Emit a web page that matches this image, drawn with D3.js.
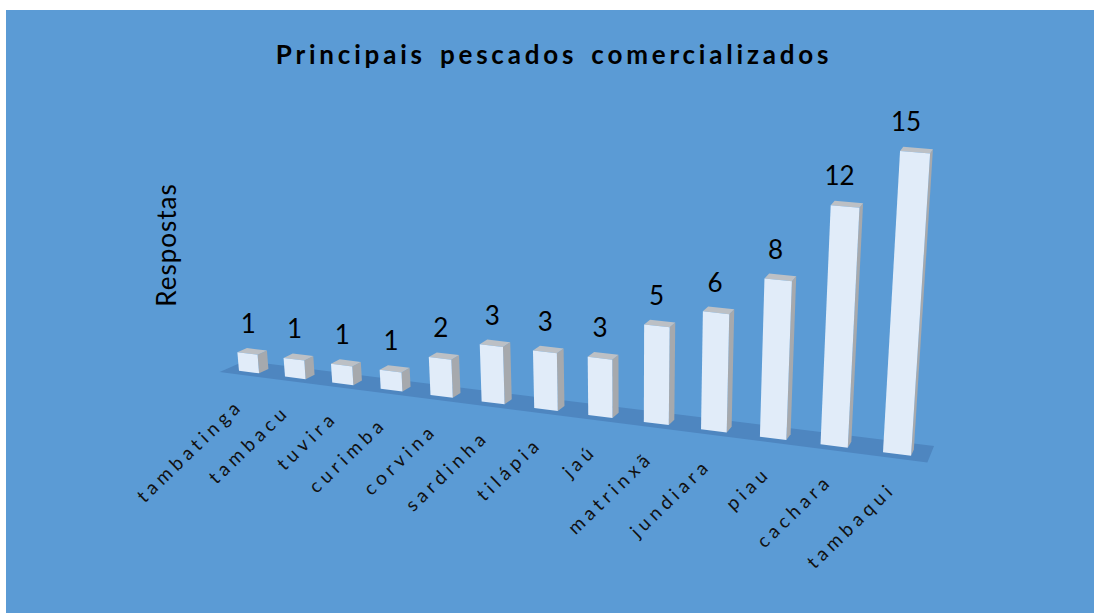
<!DOCTYPE html>
<html><head><meta charset="utf-8">
<script src="https://cdn.jsdelivr.net/npm/d3@7"></script>
<style>body{margin:0;background:#fff} svg{display:block}</style>
</head><body>
<svg id="chart" width="1094" height="613"></svg>
<script>
// Principais pescados comercializados: number of answers per fish
const categories = ["tambatinga","tambacu","tuvira","curimba","corvina","sardinha","tilápia","jaú","matrinxã","jundiara","piau","cachara","tambaqui"];
const values = [1, 1, 1, 1, 2, 3, 3, 3, 5, 6, 8, 12, 15];
const valueDomain = [0, 15];
const titleText = "Principais pescados comercializados";
const axisTitle = "Respostas";

const svg = d3.select("#chart");
svg.append("rect").attr("x", 6).attr("y", 10).attr("width", 1088).attr("height", 603).attr("fill", "#5b9bd5");

// category axis in "step" units: band centres fall on 0..12
const x = d3.scaleBand().domain(categories).range([-0.5, 12.5]).paddingInner(0.56).paddingOuter(0.28);
// value axis: column height in pixels at the reference depth
const y = d3.scaleLinear().domain(valueDomain).range([0, 277.5]);

// projective map of the floor plane (X along categories, Z into depth)
const H = {a1: 42.49, a2: 27.7, a3: 249, b1: 1.008, b2: -0.9, b3: 372, g1: -0.01283, g2: 0.02446};
const VP = [631, 4900]; // vertical edges converge towards this point
function project(X, h, Z) {
  const den = 1 + H.g1 * X + H.g2 * Z;
  const bx = (H.a1 * X + H.a2 * Z + H.a3) / den;
  const by = (H.b1 * X + H.b2 * Z + H.b3) / den;
  const len = h * Math.sqrt(1 / den);
  const lean = (bx - VP[0]) / (VP[1] - by);
  return [bx + len * lean, by - len];
}
const poly = pts => "M" + pts.map(p => p[0].toFixed(2) + "," + p[1].toFixed(2)).join("L") + "Z";

// floor
const fz0 = -0.3, fz1 = 0.85;
const [xr0, xr1] = x.range();
svg.append("path")
  .attr("d", poly([project(xr0, 0, fz0), project(xr1, 0, fz0), project(xr1, 0, fz1), project(xr0, 0, fz1)]))
  .attr("fill", "#4e86c0");

// columns
const bw = x.bandwidth();
const cols = svg.append("g");
categories.forEach((c, i) => {
  const x0 = x(c), x1 = x0 + bw, z1 = bw;
  const h = y(values[i]);
  const g = cols.append("g");
  g.append("path").attr("d", poly([project(x1, 0, 0), project(x1, 0, z1), project(x1, h, z1), project(x1, h, 0)]))
    .attr("fill", "#a6a9ad");
  g.append("path").attr("d", poly([project(x0, h, 0), project(x1, h, 0), project(x1, h, z1), project(x0, h, z1)]))
    .attr("fill", "#bcc0c5");
  g.append("path").attr("d", poly([project(x0, 0, 0), project(x1, 0, 0), project(x1, h, 0), project(x0, h, 0)]))
    .attr("fill", "#e1ecf9");
});

// value labels
categories.forEach((c, i) => {
  const xm = x(c) + bw / 2;
  const h = y(values[i]);
  const b = project(xm, 0, 0), t = project(xm, h, 0);
  svg.append("text")
    .attr("x", (b[0] + t[0]) / 2).attr("y", t[1] - 21)
    .attr("text-anchor", "middle")
    .attr("font-family", "Lato, 'Open Sans', sans-serif").attr("font-size", 26)
    .attr("fill", "#000")
    .text(values[i]);
});

// category labels
categories.forEach(c => {
  const p = project(x(c) + bw / 2, 0, fz0);
  svg.append("text")
    .attr("transform", `translate(${(p[0] + 2).toFixed(2)},${(p[1] + 32).toFixed(2)}) rotate(-44)`)
    .attr("text-anchor", "end")
    .attr("font-family", "Lato, 'Open Sans', sans-serif").attr("font-size", 19)
    .attr("letter-spacing", "4.6px")
    .attr("fill", "#111")
    .text(c);
});

// title
svg.append("text")
  .attr("x", 554).attr("y", 64).attr("text-anchor", "middle")
  .attr("font-family", "Lato, 'Open Sans', sans-serif").attr("font-size", 26).attr("font-weight", "bold")
  .attr("letter-spacing", "3.8px").attr("word-spacing", "4px")
  .attr("fill", "#000")
  .text(titleText);

// value axis title
svg.append("text")
  .attr("transform", "translate(176,245) rotate(-90)")
  .attr("text-anchor", "middle")
  .attr("font-family", "Lato, 'Open Sans', sans-serif").attr("font-size", 26)
  .attr("letter-spacing", "1px")
  .attr("fill", "#000")
  .text(axisTitle);
</script>
</body></html>
